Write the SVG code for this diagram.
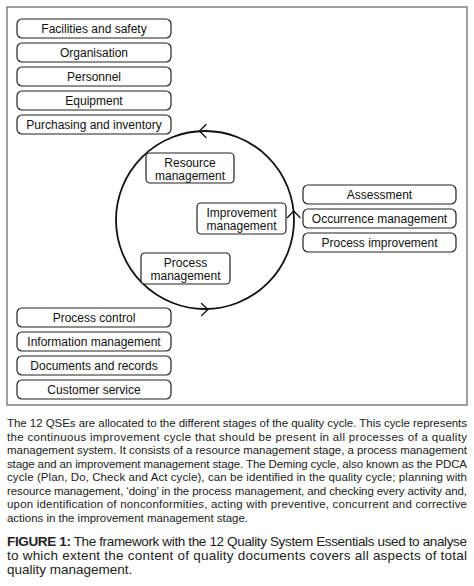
<svg xmlns="http://www.w3.org/2000/svg" width="474" height="586" viewBox="0 0 474 586">
<style>
.box{fill:#fff;stroke:#222;stroke-width:1.2}
.bt{font-family:"Liberation Sans",Arial,sans-serif;font-size:12px;fill:#111;text-anchor:middle}
.cyc{fill:none;stroke:#111;stroke-width:1.8}
.chev{fill:none;stroke:#111;stroke-width:1.3;stroke-linecap:round;stroke-linejoin:round}
.para{font-family:"Liberation Sans",Arial,sans-serif;font-size:11.5px;fill:#222}
.cap{font-family:"Liberation Sans",Arial,sans-serif;font-size:13.5px;fill:#222}
</style>
<rect x="0" y="0" width="474" height="586" fill="#fff"/>
<rect id="frame" x="7" y="7" width="460" height="398" fill="none" stroke="#808080" stroke-width="1.5"/>

<g id="connectors">
  <circle class="cyc" cx="205" cy="220" r="89"/>
  <path class="chev" d="M206,124.5 L199.5,131 L206,137.5"/>
  <path class="chev" d="M287.5,217.5 L293.8,211 L300,217.5"/>
  <path class="chev" d="M201.5,303.5 L208,309.5 L201.5,315.5"/>
</g>

<g id="n-facilities"><rect class="box" x="17" y="19" width="154" height="19" rx="5"/><text class="bt" x="94" y="33">Facilities and safety</text></g>
<g id="n-organisation"><rect class="box" x="17" y="43" width="154" height="19" rx="5"/><text class="bt" x="94" y="57">Organisation</text></g>
<g id="n-personnel"><rect class="box" x="17" y="67" width="154" height="19" rx="5"/><text class="bt" x="94" y="81">Personnel</text></g>
<g id="n-equipment"><rect class="box" x="17" y="91" width="154" height="19" rx="5"/><text class="bt" x="94" y="105">Equipment</text></g>
<g id="n-purchasing"><rect class="box" x="17" y="115" width="154" height="19" rx="5"/><text class="bt" x="94" y="129">Purchasing and inventory</text></g>

<g id="n-resource"><rect class="box" x="146" y="153" width="88" height="30" rx="4"/><text class="bt" x="190" y="166.5">Resource</text><text class="bt" x="190" y="180">management</text></g>
<g id="n-improvement"><rect class="box" x="197" y="203" width="89" height="31" rx="4"/><text class="bt" x="241.5" y="216.5">Improvement</text><text class="bt" x="241.5" y="230">management</text></g>
<g id="n-process"><rect class="box" x="141" y="253" width="89" height="31" rx="4"/><text class="bt" x="185.5" y="266.5">Process</text><text class="bt" x="185.5" y="280">management</text></g>

<g id="n-assessment"><rect class="box" x="303" y="185" width="153" height="19" rx="5"/><text class="bt" x="379.5" y="199">Assessment</text></g>
<g id="n-occurrence"><rect class="box" x="303" y="209" width="153" height="19" rx="5"/><text class="bt" x="379.5" y="223">Occurrence management</text></g>
<g id="n-procimp"><rect class="box" x="303" y="233" width="153" height="19" rx="5"/><text class="bt" x="379.5" y="247">Process improvement</text></g>

<g id="n-proccontrol"><rect class="box" x="17" y="308" width="154" height="19" rx="5"/><text class="bt" x="94" y="322">Process control</text></g>
<g id="n-information"><rect class="box" x="17" y="332" width="154" height="19" rx="5"/><text class="bt" x="94" y="346">Information management</text></g>
<g id="n-documents"><rect class="box" x="17" y="356" width="154" height="19" rx="5"/><text class="bt" x="94" y="370">Documents and records</text></g>
<g id="n-customer"><rect class="box" x="17" y="380" width="154" height="19" rx="5"/><text class="bt" x="94" y="394">Customer service</text></g>

<g id="paragraph">
<text class="para" x="7" y="427" textLength="460" lengthAdjust="spacing">The 12 QSEs are allocated to the different stages of the quality cycle. This cycle represents</text>
<text class="para" x="7" y="440.5" textLength="460" lengthAdjust="spacing">the continuous improvement cycle that should be present in all processes of a quality</text>
<text class="para" x="7" y="454" textLength="460" lengthAdjust="spacing">management system. It consists of a resource management stage, a process management</text>
<text class="para" x="7" y="467.5" textLength="460" lengthAdjust="spacing">stage and an improvement management stage. The Deming cycle, also known as the PDCA</text>
<text class="para" x="7" y="481" textLength="460" lengthAdjust="spacing">cycle (Plan, Do, Check and Act cycle), can be identified in the quality cycle; planning with</text>
<text class="para" x="7" y="494.5" textLength="460" lengthAdjust="spacing">resource management, ‘doing’ in the process management, and checking every activity and,</text>
<text class="para" x="7" y="508" textLength="460" lengthAdjust="spacing">upon identification of nonconformities, acting with preventive, concurrent and corrective</text>
<text class="para" x="7" y="521.5" textLength="241" lengthAdjust="spacingAndGlyphs">actions in the improvement management stage.</text>
</g>

<g id="caption">
<text class="cap" x="7" y="546" textLength="460" lengthAdjust="spacing"><tspan font-weight="bold">FIGURE 1:</tspan> The framework with the 12 Quality System Essentials used to analyse</text>
<text class="cap" x="7" y="560" textLength="460" lengthAdjust="spacing">to which extent the content of quality documents covers all aspects of total</text>
<text class="cap" x="7" y="574">quality management.</text>
</g>
</svg>
